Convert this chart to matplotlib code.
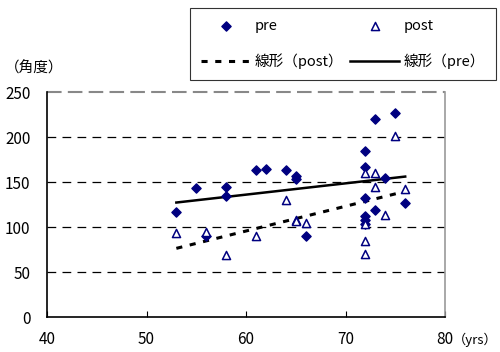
import matplotlib
matplotlib.use("Agg")
import matplotlib.pyplot as plt
import numpy as np

plt.rcParams['font.family'] = ['Noto Sans CJK JP', 'DejaVu Sans']

# pre values (age, angle)
pre_age = [53, 55, 56, 58, 58, 61, 62, 64, 65, 65, 66,
           72, 72, 72, 72, 72, 72, 73, 73, 74, 75, 76]
pre_ang = [117, 143, 90, 145, 135, 164, 165, 164, 157, 153, 90,
           185, 167, 132, 112, 108, 104, 220, 119, 155, 227, 127]

# post values
post_age = [53, 56, 58, 61, 64, 65, 65, 66,
            72, 72, 72, 72, 73, 73, 74, 75, 76]
post_ang = [93, 95, 69, 90, 130, 108, 107, 105,
            160, 103, 85, 70, 160, 145, 114, 201, 142]

navy = '#000080'

fig = plt.figure(figsize=(5.0, 3.52), dpi=100)
ax = fig.add_axes([0.094, 0.099, 0.796, 0.639])

pre_pts = ax.scatter(pre_age, pre_ang, marker='D', s=22, color=navy, zorder=3)
post_pts = ax.scatter(post_age, post_ang, marker='^', s=34, facecolor='white',
                      edgecolor=navy, linewidth=1.1, zorder=4)

# linear trend lines
xp = np.array([min(post_age), max(post_age)])
cp = np.polyfit(post_age, post_ang, 1)
l_post, = ax.plot(xp, np.polyval(cp, xp), color='black', lw=2.2,
                  ls=(0, (2, 2.5)), zorder=2)
xr = np.array([min(pre_age), max(pre_age)])
cr = np.polyfit(pre_age, pre_ang, 1)
l_pre, = ax.plot(xr, np.polyval(cr, xr), color='black', lw=1.8, zorder=2)

ax.set_xlim(40, 80)
ax.set_ylim(0, 250)
ax.set_xticks([40, 50, 60, 70, 80])
ax.set_yticks([0, 50, 100, 150, 200, 250])
for yv in [50, 100, 150, 200]:
    ax.axhline(yv, color='black', lw=0.9, ls=(0, (7, 5)), zorder=1)
ax.axhline(250, color='#888888', lw=1.5, ls=(0, (7, 3)), zorder=1, clip_on=False)

ax.spines['top'].set_visible(False)
ax.spines['right'].set_color('#999999')
ax.spines['right'].set_linewidth(1.2)
ax.spines['left'].set_linewidth(1.2)
ax.spines['bottom'].set_linewidth(1.2)
ax.tick_params(axis='x', direction='in', length=4, labelsize=11, pad=10)
ax.tick_params(axis='y', direction='out', length=0, labelsize=11, pad=12)

fig.text(0.01, 0.805, '（角度）', fontsize=10.5, ha='left', va='center')
fig.text(0.905, 0.035, '（yrs）', fontsize=9.5, ha='left', va='center')

handles = [pre_pts, l_post, post_pts, l_pre]
labels = ['pre', '線形（post）', 'post', '線形（pre）']
leg = fig.legend(handles, labels, ncol=2, loc='lower left',
                 bbox_to_anchor=(0.38, 0.773, 0.612, 0.207), mode='expand',
                 fontsize=10.5, frameon=True, fancybox=False, edgecolor='black',
                 handlelength=3.4, handletextpad=0.3, columnspacing=0.4,
                 borderaxespad=0, labelspacing=1.4, borderpad=0.75)
leg.get_frame().set_linewidth(0.8)

fig.savefig('out.png', dpi=100)
